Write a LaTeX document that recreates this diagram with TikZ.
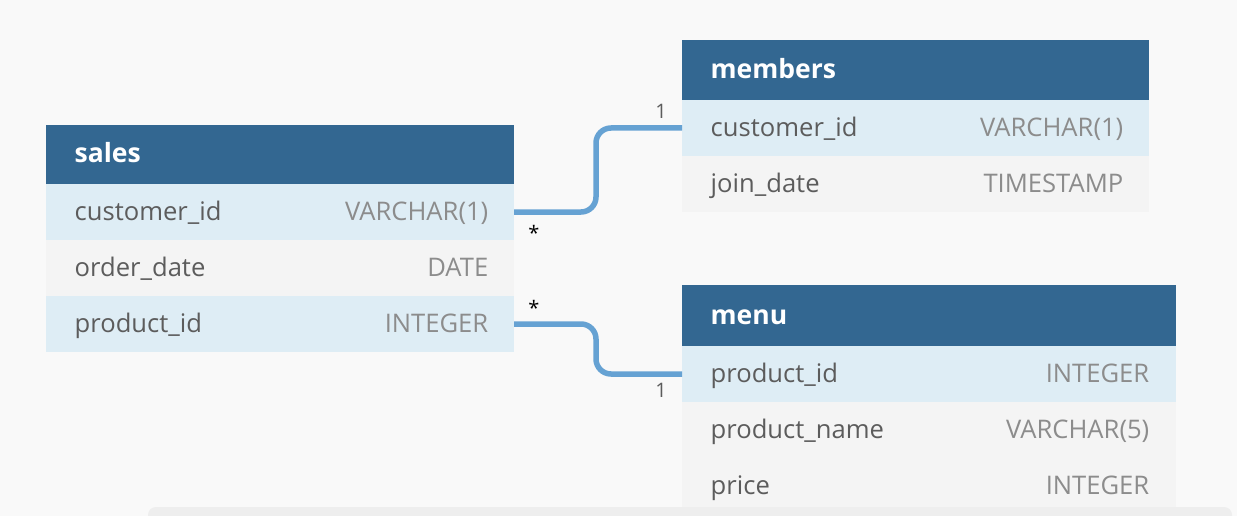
\documentclass[tikz,border=0pt]{standalone}
\usepackage{fontspec}
\setmainfont{Open Sans}
\definecolor{canvas}{HTML}{F9F9F9}
\definecolor{headblue}{HTML}{336791}
\definecolor{rowblue}{HTML}{DEEDF5}
\definecolor{rowgray}{HTML}{F4F4F4}
\definecolor{fieldgray}{HTML}{5C5C5C}
\definecolor{typegray}{HTML}{8C8C8C}
\definecolor{linkblue}{HTML}{66A2D3}
\definecolor{barshade}{HTML}{EEEEEE}
\tikzset{every picture/.style={line width=0.75pt},
	tblhead/.style={fill=headblue, anchor=north west, inner sep=0, outer sep=0},
	rowb/.style={fill=rowblue, anchor=north west, minimum height=56, inner sep=0, outer sep=0},
	rowg/.style={fill=rowgray, anchor=north west, minimum height=56, inner sep=0, outer sep=0},
	headtext/.style={anchor=base west, text=white, font=\fontsize{26.5}{30}\selectfont\bfseries},
	fieldtext/.style={anchor=base west, text=fieldgray, font=\fontsize{25.6}{29}\selectfont},
	typetext/.style={anchor=base east, text=typegray, font=\fontsize{25.6}{29}\selectfont},
	link/.style={draw=linkblue, line width=5.5, rounded corners=15},
	card/.style={font=\fontsize{20}{22}\selectfont}
}

\begin{document}
\begin{tikzpicture}[x=1pt,y=1pt,yscale=-1]
	%set diagram to the size of the reference
	\useasboundingbox[fill=canvas] (0,0) rectangle (1237,516);

	% Table: sales
	\node [tblhead, minimum width=468, minimum height=59] (sales) at (46,125) {};
	\node [rowb, minimum width=468] (sales-cid) at (46,184) {};
	\node [rowg, minimum width=468] (sales-date) at (46,240) {};
	\node [rowb, minimum width=468] (sales-pid) at (46,296) {};
	% Text Node
	\node [headtext] (sales-t) at (71,163) {sales};
	\node [fieldtext] (sales-cid-f) at (71,220.5) {customer\_id};
	\node [typetext] (sales-cid-y) at (492,220.5) {VARCHAR(1)};
	\node [fieldtext] (sales-date-f) at (71,276.5) {order\_date};
	\node [typetext] (sales-date-y) at (492,276.5) {DATE};
	\node [fieldtext] (sales-pid-f) at (71,332.5) {product\_id};
	\node [typetext] (sales-pid-y) at (492,332.5) {INTEGER};

	% Table: members
	\node [tblhead, minimum width=467, minimum height=60] (members) at (682,40) {};
	\node [rowb, minimum width=467] (mem-cid) at (682,100) {};
	\node [rowg, minimum width=467] (mem-join) at (682,156) {};
	% Text Node
	\node [headtext] (members-t) at (707,79) {members};
	\node [fieldtext] (mem-cid-f) at (707,136.5) {customer\_id};
	\node [typetext] (mem-cid-y) at (1127,136.5) {VARCHAR(1)};
	\node [fieldtext] (mem-join-f) at (707,192.5) {join\_date};
	\node [typetext] (mem-join-y) at (1127,192.5) {TIMESTAMP};

	% Table: menu
	\node [tblhead, minimum width=494, minimum height=61] (menu) at (682,285) {};
	\node [rowb, minimum width=494] (menu-pid) at (682,346) {};
	\node [rowg, minimum width=494] (menu-name) at (682,402) {};
	\node [rowg, minimum width=494] (menu-price) at (682,458) {};
	% Text Node
	\node [headtext] (menu-t) at (707,324) {menu};
	\node [fieldtext] (menu-pid-f) at (707,382.5) {product\_id};
	\node [typetext] (menu-pid-y) at (1153,382.5) {INTEGER};
	\node [fieldtext] (menu-name-f) at (707,438.5) {product\_name};
	\node [typetext] (menu-name-y) at (1153,438.5) {VARCHAR(5)};
	\node [fieldtext] (menu-price-f) at (707,494.5) {price};
	\node [typetext] (menu-price-y) at (1153,494.5) {INTEGER};

	%Straight Lines: sales.customer_id -- members.customer_id
	\draw [link] (sales-cid.east) -- ++(82,0) |- (mem-cid.west);
	%Straight Lines: sales.product_id -- menu.product_id
	\draw [link] (sales-pid.east) -- ++(82,0) |- (menu-pid.west);

	% Text Node
	\node [card] (c-many1) at (534,233) {*};
	\node [card, text=fieldgray] (c-one1) at (661,111) {1};
	\node [card] (c-many2) at (534,308) {*};
	\node [card, text=fieldgray] (c-one2) at (661,390) {1};

	%Shape: bottom bar
	\fill [barshade, rounded corners=8] (148,507) rectangle (1232,530);
\end{tikzpicture}
\end{document}
